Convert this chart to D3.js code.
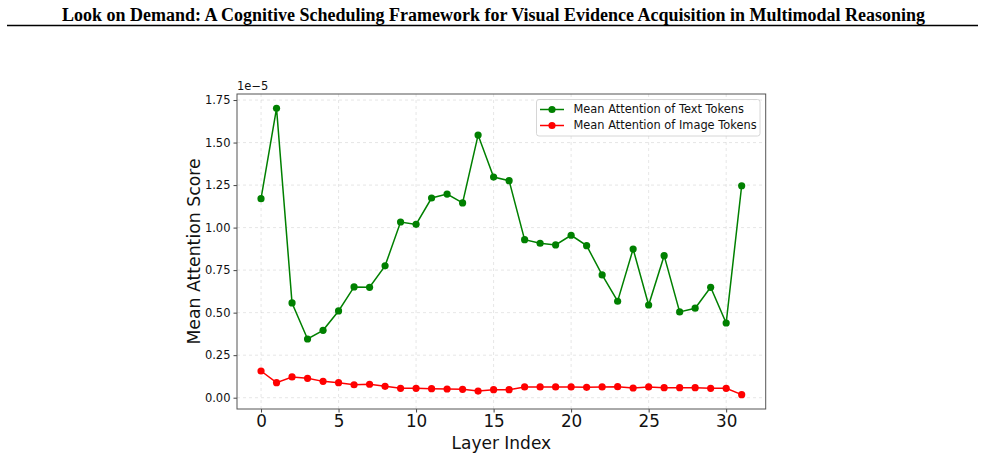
<!DOCTYPE html>
<html><head><meta charset="utf-8">
<script src="https://cdn.jsdelivr.net/npm/d3@7"></script>
<style>body{margin:0;background:#fff;}svg{display:block;}</style>
</head><body>
<svg id="c" width="985" height="459"></svg>
<script>
const layers = d3.range(0, 32);
const textTokens = [1.170,1.701,0.557,0.345,0.396,0.510,0.651,0.649,0.775,1.033,1.019,1.174,1.197,1.145,1.544,1.297,1.276,0.929,0.908,0.898,0.955,0.894,0.722,0.567,0.874,0.545,0.835,0.504,0.526,0.649,0.439,1.246];
const imageTokens = [0.157,0.088,0.122,0.114,0.096,0.088,0.076,0.079,0.067,0.055,0.055,0.053,0.051,0.049,0.039,0.047,0.047,0.063,0.063,0.063,0.063,0.061,0.063,0.065,0.057,0.063,0.059,0.059,0.059,0.055,0.055,0.018];
const xTicks = [0,5,10,15,20,25,30];
const yTicks = [0,0.25,0.5,0.75,1.0,1.25,1.5,1.75];
const seriesNames = ["Mean Attention of Text Tokens","Mean Attention of Image Tokens"];
const colors = ["#008000","#ff0000"];
const titleText = "Look on Demand: A Cognitive Scheduling Framework for Visual Evidence Acquisition in Multimodal Reasoning";

const svg = d3.select("#c");
const L=237, R=765.7, T=94, B=409;
const x = d3.scaleLinear().domain([-1.55, 32.55]).range([L, R]);
const y = d3.scaleLinear().domain([-0.0665, 1.7855]).range([B, T]);

// header
svg.append("text").attr("x", 62).attr("y", 20.5)
  .attr("font-family","'Liberation Serif','Times New Roman',serif").attr("font-weight","bold")
  .attr("font-size", 18.2).attr("textLength", 863).attr("lengthAdjust","spacingAndGlyphs")
  .attr("fill","#000").text(titleText);
svg.append("line").attr("x1",7).attr("x2",978).attr("y1",25.5).attr("y2",25.5).attr("stroke","#000").attr("stroke-width",1.6);

// grid
const g = svg.append("g");
g.selectAll(".gx").data(xTicks).enter().append("line")
  .attr("x1",d=>x(d)).attr("x2",d=>x(d)).attr("y1",T).attr("y2",B)
  .attr("stroke","#b0b0b0").attr("stroke-opacity",0.4).attr("stroke-dasharray","3,3").attr("stroke-width",0.8);
g.selectAll(".gy").data(yTicks).enter().append("line")
  .attr("y1",d=>y(d)).attr("y2",d=>y(d)).attr("x1",L).attr("x2",R)
  .attr("stroke","#b0b0b0").attr("stroke-opacity",0.4).attr("stroke-dasharray","3,3").attr("stroke-width",0.8);

// axes
const xAxis = d3.axisBottom(x).tickValues(xTicks).tickFormat(d3.format("d")).tickSize(3.5).tickPadding(3);
const yAxis = d3.axisLeft(y).tickValues(yTicks).tickFormat(d3.format(".2f")).tickSize(3.5).tickPadding(3);
const ax = svg.append("g").attr("transform",`translate(0,${B})`).call(xAxis);
ax.select(".domain").remove();
ax.selectAll("text").attr("font-family","'DejaVu Sans',sans-serif").attr("font-size",16.8).attr("fill","#111");
ax.selectAll("line").attr("stroke","#444");
const ay = svg.append("g").attr("transform",`translate(${L},0)`).call(yAxis);
ay.select(".domain").remove();
ay.selectAll("text").attr("font-family","'DejaVu Sans',sans-serif").attr("font-size",11.5).attr("fill","#111");
ay.selectAll("line").attr("stroke","#444");

svg.append("rect").attr("x",L).attr("y",T).attr("width",R-L).attr("height",B-T)
  .attr("fill","none").attr("stroke","#555").attr("stroke-width",1);

svg.append("text").attr("x",L).attr("y",T-4).attr("font-family","'DejaVu Sans',sans-serif")
  .attr("font-size",11.5).attr("fill","#111").text("1e\u22125");

// labels
svg.append("text").attr("x",(L+R)/2).attr("y",449).attr("text-anchor","middle")
  .attr("font-family","'DejaVu Sans',sans-serif").attr("font-size",17).attr("fill","#111").text("Layer Index");
svg.append("text").attr("transform",`translate(199.5,${(T+B)/2}) rotate(-90)`).attr("text-anchor","middle")
  .attr("font-family","'DejaVu Sans',sans-serif").attr("font-size",17.3).attr("fill","#111").text("Mean Attention Score");

// series
const series = [textTokens, imageTokens];
const line = d3.line().x((d,i)=>x(layers[i])).y(d=>y(d));
series.forEach((s,k)=>{
  svg.append("path").datum(s).attr("d",line).attr("fill","none").attr("stroke",colors[k]).attr("stroke-width",1.5);
  svg.append("g").selectAll("circle").data(s).enter().append("circle")
    .attr("cx",(d,i)=>x(layers[i])).attr("cy",d=>y(d)).attr("r",3.6).attr("fill",colors[k]);
});

// legend
const lg = svg.append("g");
lg.append("rect").attr("x",536.5).attr("y",99.5).attr("width",223.5).attr("height",36.5).attr("rx",2.5)
  .attr("fill","#fff").attr("fill-opacity",0.8).attr("stroke","#ccc").attr("stroke-width",0.8);
seriesNames.forEach((n,k)=>{
  const yy = 109.5 + k*16;
  lg.append("line").attr("x1",540).attr("x2",564).attr("y1",yy).attr("y2",yy).attr("stroke",colors[k]).attr("stroke-width",1.5);
  lg.append("circle").attr("cx",552).attr("cy",yy).attr("r",3.6).attr("fill",colors[k]);
  lg.append("text").attr("x",573.5).attr("y",yy).attr("dy","0.35em").attr("font-family","'DejaVu Sans',sans-serif")
    .attr("font-size",11.4).attr("fill","#111").text(n);
});
</script>
</body></html>
